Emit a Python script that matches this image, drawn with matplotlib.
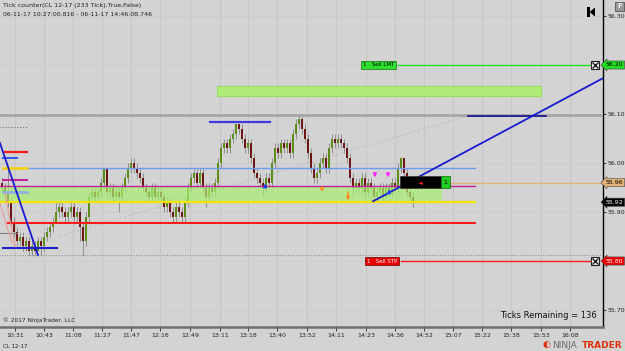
import numpy as np
import matplotlib.pyplot as plt
from matplotlib.patches import Rectangle, Polygon

# 233 tick bars, CL 12-17
closes = [55.95, 55.94, 55.92, 55.88, 55.86, 55.84, 55.85, 55.83, 55.84, 55.82,
          55.83, 55.82, 55.84, 55.83, 55.85, 55.86, 55.87, 55.88, 55.90, 55.91,
          55.90, 55.89, 55.90, 55.91, 55.89, 55.90, 55.87, 55.84, 55.89, 55.93,
          55.94, 55.93, 55.94, 55.96, 55.99, 55.94, 55.95, 55.93, 55.94, 55.93,
          55.95, 55.97, 55.99, 56.00, 55.99, 55.98, 55.97, 55.95, 55.94, 55.93,
          55.95, 55.93, 55.94, 55.93, 55.91, 55.92, 55.90, 55.89, 55.91, 55.90,
          55.89, 55.92, 55.95, 55.97, 55.98, 55.96, 55.98, 55.95, 55.93, 55.95,
          55.94, 55.96, 56.00, 56.03, 56.04, 56.03, 56.05, 56.06, 56.08, 56.07,
          56.05, 56.03, 56.04, 56.01, 55.98, 55.97, 55.96, 55.95, 55.97, 55.96,
          56.00, 56.03, 56.02, 56.04, 56.03, 56.04, 56.02, 56.06, 56.08, 56.09,
          56.07, 56.05, 56.02, 55.99, 55.97, 55.98, 56.00, 56.01, 55.99, 56.03,
          56.05, 56.04, 56.05, 56.04, 56.03, 56.01, 55.97, 55.95, 55.96, 55.95,
          55.97, 55.94, 55.96, 55.95, 55.93, 55.94, 55.95, 55.93, 55.95, 55.94,
          55.96, 55.95, 55.99, 56.01, 55.98, 55.94, 55.93, 55.92]
highs = [55.97, 55.96, 55.99, 55.93, 55.89, 55.87, 55.86, 55.86, 55.85, 55.85,
         55.84, 55.84, 55.85, 55.85, 55.86, 55.87, 55.88, 55.89, 55.92, 55.92,
         55.92, 55.91, 55.91, 55.92, 55.92, 55.91, 55.91, 55.88, 55.90, 55.94,
         55.95, 55.95, 55.95, 55.97, 55.99, 55.99, 55.96, 55.96, 55.95, 55.95,
         55.96, 55.98, 56.00, 56.01, 56.01, 56.00, 55.99, 55.98, 55.96, 55.95,
         55.96, 55.96, 55.95, 55.95, 55.94, 55.93, 55.93, 55.91, 55.92, 55.92,
         55.91, 55.93, 55.96, 55.98, 55.99, 55.99, 55.99, 55.99, 55.96, 55.96,
         55.96, 55.97, 56.01, 56.04, 56.05, 56.05, 56.06, 56.07, 56.08, 56.08,
         56.08, 56.06, 56.05, 56.05, 56.02, 55.99, 55.98, 55.97, 55.98, 55.98,
         56.01, 56.04, 56.04, 56.05, 56.05, 56.05, 56.05, 56.07, 56.09, 56.10,
         56.10, 56.08, 56.06, 56.03, 56.00, 55.99, 56.01, 56.02, 56.02, 56.04,
         56.06, 56.06, 56.06, 56.06, 56.05, 56.04, 56.02, 55.98, 55.97, 55.97,
         55.98, 55.98, 55.97, 55.97, 55.96, 55.95, 55.96, 55.96, 55.96, 55.96,
         55.97, 55.97, 56.00, 56.01, 56.01, 55.99, 55.95, 55.94]
lows = [55.94, 55.93, 55.91, 55.87, 55.85, 55.83, 55.83, 55.82, 55.82, 55.81,
        55.81, 55.81, 55.82, 55.81, 55.82, 55.84, 55.85, 55.86, 55.88, 55.89,
        55.89, 55.88, 55.88, 55.89, 55.88, 55.88, 55.84, 55.81, 55.83, 55.88,
        55.92, 55.92, 55.92, 55.93, 55.95, 55.93, 55.93, 55.92, 55.92, 55.90,
        55.92, 55.94, 55.96, 55.98, 55.98, 55.97, 55.96, 55.94, 55.93, 55.92,
        55.92, 55.92, 55.92, 55.92, 55.90, 55.90, 55.89, 55.88, 55.88, 55.89,
        55.88, 55.88, 55.91, 55.94, 55.96, 55.95, 55.95, 55.94, 55.91, 55.92,
        55.93, 55.93, 55.95, 55.99, 56.02, 56.02, 56.02, 56.04, 56.05, 56.06,
        56.04, 56.02, 56.02, 56.00, 55.97, 55.96, 55.95, 55.93, 55.94, 55.95,
        55.95, 55.99, 56.01, 56.01, 56.02, 56.02, 56.01, 56.01, 56.05, 56.07,
        56.06, 56.04, 56.01, 55.98, 55.96, 55.96, 55.97, 55.99, 55.98, 55.98,
        56.02, 56.03, 56.03, 56.03, 56.02, 56.00, 55.96, 55.93, 55.94, 55.94,
        55.94, 55.93, 55.93, 55.94, 55.92, 55.92, 55.93, 55.92, 55.92, 55.93,
        55.93, 55.94, 55.94, 55.98, 55.97, 55.93, 55.92, 55.91]
first_open = 55.96

time_labels = ['10:31', '10:43', '11:08', '11:27', '11:47', '12:16', '12:49', '13:11', '13:18', '13:40',
               '13:52', '14:11', '14:23', '14:36', '14:52', '15:07', '15:22', '15:38', '15:53', '16:08']
time_bars = [4.3, 14, 23.7, 33.3, 43, 52.7, 62.7, 72.7, 82, 91.7,
             101.7, 111.3, 121.3, 131, 140.7, 150.3, 160, 169.7, 179.7, 189.3]

# drawn horizontal levels: price, start bar, end bar, colour, width, style
levels = [
    (56.098, -1, 201, '#a6a6a6', 2.0, '-'),
    (56.073, -1, 8.3, '#707070', 0.8, ':'),
    (56.022, 1, 8.3, '#ff1a1a', 1.6, '-'),
    (56.010, 0.3, 5, '#3355ee', 1.4, '-'),
    (55.990, 8.3, 157.7, '#6a9cf0', 1.0, '-'),
    (55.990, 0.3, 8.3, '#f5d000', 1.8, '-'),
    (55.965, 0.3, 8.3, '#c0209c', 1.4, '-'),
    (55.953, -1, 157.7, '#c0209c', 1.0, '-'),
    (55.940, 0.3, 8.3, '#8fb0e0', 2.0, '-'),
    (55.920, -1, 157.7, '#f2e400', 1.6, '-'),
    (55.878, 2, 157.7, '#ff1a1a', 1.5, '-'),
    (55.857, -1, 5, '#808080', 0.8, '-'),
    (55.827, 0.3, 18.3, '#2020c8', 1.5, '-'),
    (55.812, -1, 201, '#8a8a8a', 0.7, ':'),
    (56.084, 69.3, 89.3, '#3a3ae0', 1.6, '-'),
    (56.096, 155.3, 181.3, '#10108c', 1.2, '-'),
    (55.960, 132.7, 201, '#e4b377', 1.0, '-'),
    (56.200, 132, 197.7, '#22e022', 1.0, '-'),
    (55.800, 133, 197.7, '#ff2020', 1.0, '-'),
]

bg = '#d3d3d3'
fig = plt.figure(figsize=(6.25, 3.51), dpi=100, facecolor=bg)
ax = fig.add_axes([0, 24 / 351, 603 / 625, 327 / 351])
ax.set_facecolor(bg)
ax.set_xlim(-2 / 3, 601 / 3)
ax.set_ylim(56 - 164 / 490, 56 + 163 / 490)

# grid
for tb in time_bars:
    ax.axvline(tb, color='#c6c6c6', lw=0.8, zorder=0)
for p in [55.7, 55.8, 55.9, 56.0, 56.1, 56.2, 56.3]:
    ax.axhline(p, color='#cbcbcb', lw=0.6, zorder=0)

# candles
opens = [first_open] + closes[:-1]
xs = np.arange(len(closes))
ax.vlines(xs, lows, highs, color='#8e8e8e', lw=0.7, zorder=2)
for x, o, c in zip(xs, opens, closes):
    col = '#5c8c14' if c >= o else '#6e1515'
    ax.add_patch(Rectangle((x - 0.3, min(o, c)), 0.6, max(abs(c - o), 0.003),
                           facecolor=col, edgecolor='none', zorder=3))

# zones
ax.add_patch(Rectangle((-1, 55.922), 147.7, 0.031, facecolor='#a8f070', alpha=0.7,
                       edgecolor='none', zorder=4))
ax.add_patch(Rectangle((71.7, 56.137), 108, 0.02, facecolor='#b0ec78',
                       edgecolor='#98dc60', lw=0.8, zorder=4))

for p, x0, x1, col, lw, ls in levels:
    ax.plot([x0, x1], [p, p], color=col, lw=lw, ls=ls, zorder=5)

# trend lines
ax.plot([-0.7, 12], [56.041, 55.812], color='#1a1ad0', lw=1.3, zorder=6)
ax.plot([123.7, 200.3], [55.922, 56.173], color='#1a1ad0', lw=1.3, zorder=6)
ax.plot([1, 4.3], [55.939, 55.829], color='#e89a9a', lw=0.8, zorder=5)
ax.plot([-0.7, 3.3], [55.918, 55.837], color='#e89a9a', lw=0.8, zorder=5)
ax.plot([19.3, 155.3], [55.851, 56.096], color='#bdbdbd', lw=0.8, ls=(0, (2, 2)), zorder=1)

# signal arrows
def arrow(x, y0, y1, col):
    ax.annotate('', xy=(x, y1), xytext=(x, y0),
                arrowprops=dict(arrowstyle='-|>', color=col, lw=1.0, mutation_scale=5), zorder=7)

arrow(106.7, 55.957, 55.935, '#ff8c1a')
arrow(115.3, 55.947, 55.918, '#ff8c1a')
arrow(124.3, 55.986, 55.965, '#ff20ff')
arrow(128.7, 55.986, 55.965, '#ff20ff')
arrow(87.7, 55.946, 55.964, '#2040ff')
arrow(129, 55.934, 55.952, '#2040ff')

# position box
ax.add_patch(Rectangle((132.7, 55.949), 13.7, 0.024, facecolor='black', edgecolor='#333333',
                       lw=0.5, zorder=8))
ax.add_patch(Rectangle((146.4, 55.949), 3.0, 0.024, facecolor='#22cc22', edgecolor='#116611',
                       lw=0.5, zorder=8))
ax.text(139.3, 55.961, '\u25c4', color='#ff2020', fontsize=4.5, ha='center', va='center', zorder=9)
ax.text(147.9, 55.961, '1', color='black', fontsize=4.5, ha='center', va='center', zorder=9)

# order labels
ax.text(120.3, 56.2, '1   Sell LMT', fontsize=4, color='black', va='center', ha='left', zorder=9,
        bbox=dict(boxstyle='square,pad=0.3', facecolor='#2ee02e', edgecolor='#107010', lw=0.5))
ax.text(121.6, 55.8, '1   Sell STP', fontsize=4, color='white', va='center', ha='left', zorder=9,
        bbox=dict(boxstyle='square,pad=0.3', facecolor='#e80000', edgecolor='#700000', lw=0.5))
for p in [56.2, 55.8]:
    ax.plot(197.7, p, marker='s', ms=6, mfc='#f0f0f0', mec='#222222', mew=0.8, zorder=9)
    ax.plot(197.7, p, marker='x', ms=4, mec='#222222', mew=1.0, zorder=10)

# axes styling
for s in ['top', 'left']:
    ax.spines[s].set_visible(False)
ax.spines['right'].set_color('black')
ax.spines['right'].set_linewidth(1.0)
ax.spines['bottom'].set_color('#707070')
ax.spines['bottom'].set_linewidth(1.8)
ax.yaxis.tick_right()
ax.set_yticks([55.7, 55.9, 56.0, 56.1, 56.3])
ax.set_yticklabels(['55.70', '55.90', '56.00', '56.10', '56.30'])
ax.tick_params(axis='y', labelsize=4.5, length=2, width=0.6, pad=1.5, colors='#222222')
ax.set_xticks(time_bars)
ax.set_xticklabels(time_labels)
ax.tick_params(axis='x', labelsize=4.5, length=3, width=0.6, pad=1.5, colors='#222222')

# price flags
flags = [(56.20, '56.20', '#22dd22', 'black'), (55.96, '55.96', '#e4b377', 'black'),
         (55.92, '55.92', 'black', 'white'), (55.80, '55.80', '#ee0000', 'white')]
for p, s, fc, tc in flags:
    ax.annotate(s, xy=(1.004, p), xycoords=ax.get_yaxis_transform(), fontsize=4.5, color=tc,
                ha='left', va='center', annotation_clip=False, zorder=11,
                bbox=dict(boxstyle='larrow,pad=0.25', facecolor=fc, edgecolor='#444444', lw=0.4))

# overlay (pixel coords) for captions and logo
ov = fig.add_axes([0, 0, 1, 1], zorder=10)
ov.set_xlim(0, 625)
ov.set_ylim(351, 0)
ov.axis('off')
ov.patch.set_alpha(0)
ov.text(3, 6, 'Tick counter(CL 12-17 (233 Tick),True,False)', fontsize=4.5, va='center', color='#222222')
ov.text(3, 15, '06-11-17 10:27:00.816 - 06-11-17 14:46:08.746', fontsize=4.5, va='center', color='#222222')
ov.add_patch(Rectangle((615, 1.5), 9, 9, facecolor='#9a9a9a', edgecolor='#555555', lw=0.6))
ov.text(619.5, 6, 'F', fontsize=5, color='white', ha='center', va='center', fontweight='bold')
# skip-to-start icon
ov.add_patch(Rectangle((587, 7), 2.5, 10, facecolor='black'))
ov.add_patch(Polygon([[589.5, 12], [595, 7.5], [595, 16.5]], closed=True, facecolor='black'))
ov.text(3, 320, '\u00a9 2017 NinjaTrader, LLC', fontsize=4.2, va='center', color='#222222')
ov.text(597, 316, 'Ticks Remaining = 136', fontsize=6, va='center', ha='right', color='#111111')
ov.text(3, 346, 'CL 12-17', fontsize=4, va='center', color='#222222')
ov.text(552, 345, 'NINJA', fontsize=6.5, va='center', ha='left', color='#6a6a6a')
ov.text(582, 345, 'TRADER', fontsize=6.5, va='center', ha='left', color='#e03010', fontweight='bold')
ov.text(546, 345, '\u25d0', fontsize=6.5, va='center', ha='center', color='#e03010')

fig.savefig('out.png', dpi=100, facecolor=bg)
